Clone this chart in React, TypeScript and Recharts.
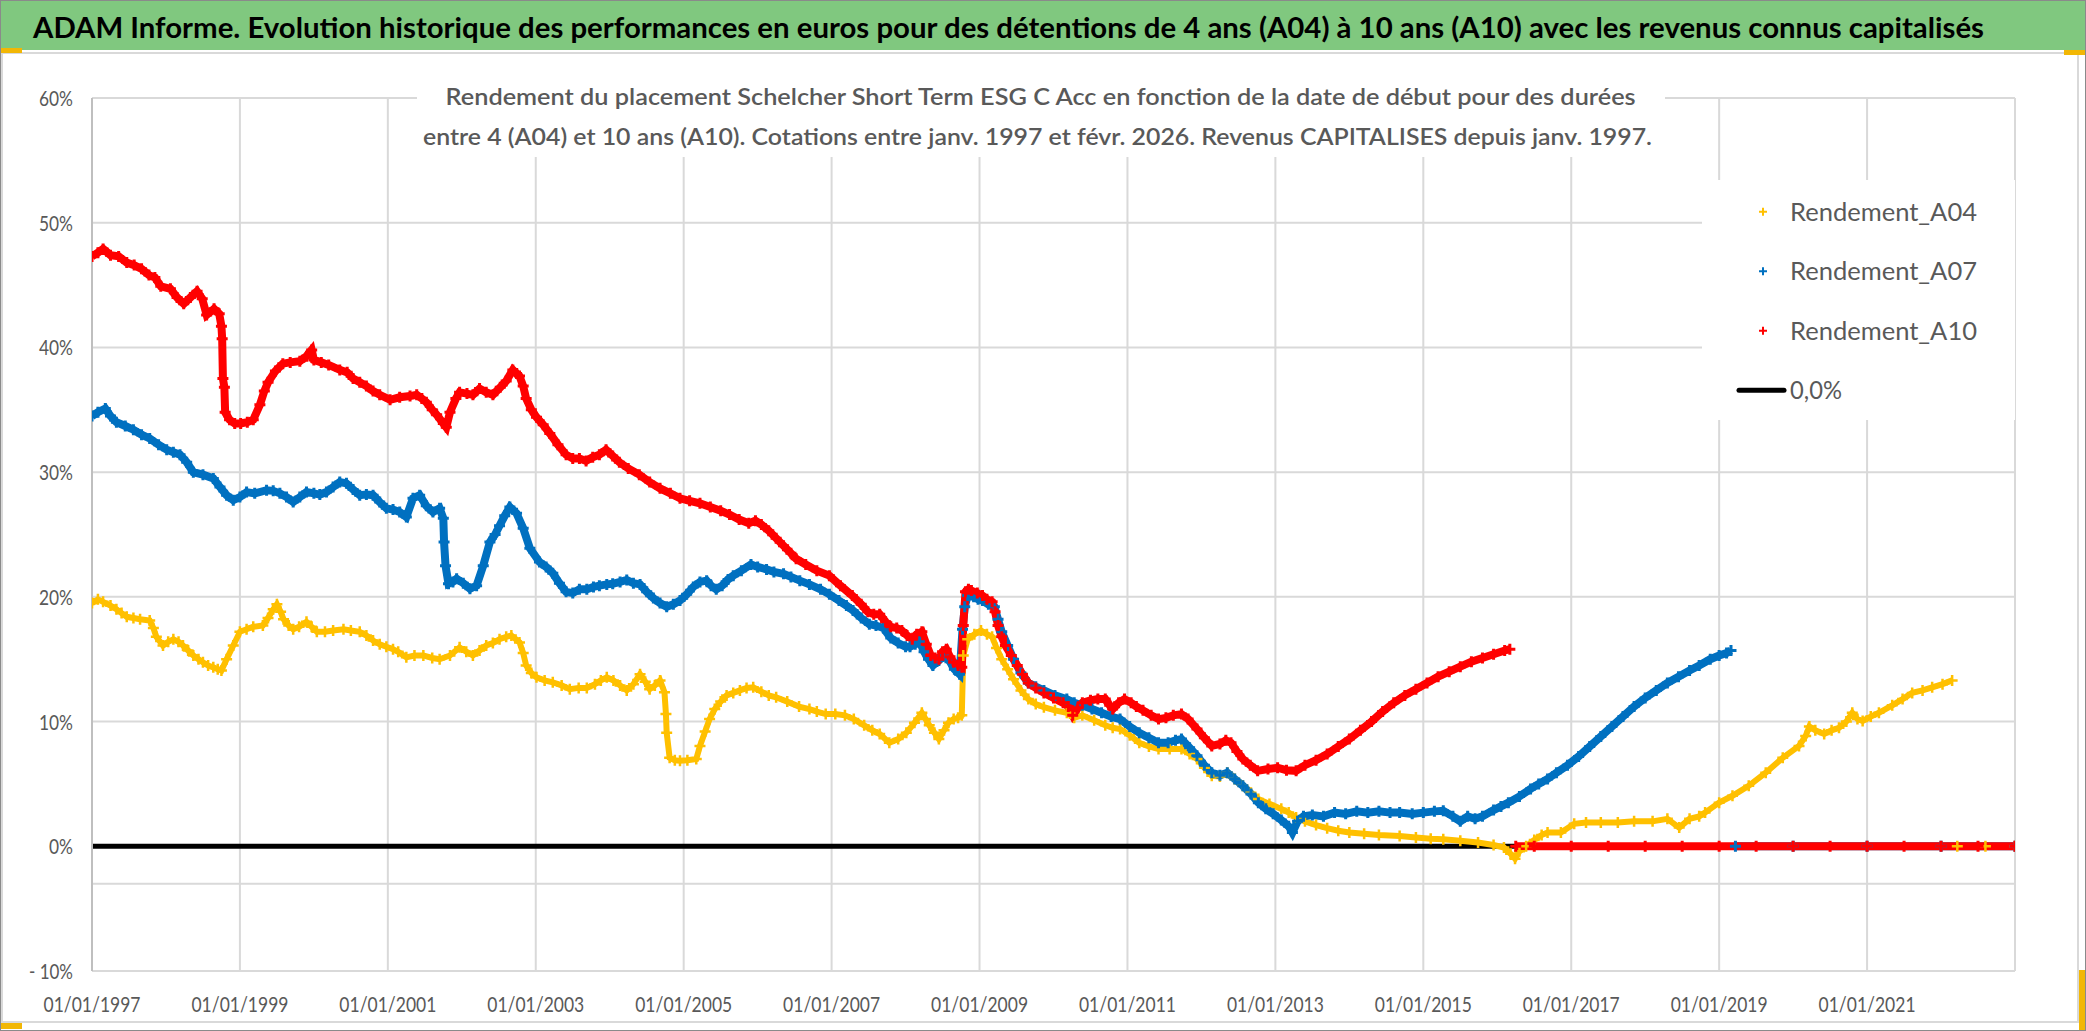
import React from 'react';
import { ComposedChart, Line, XAxis, YAxis, CartesianGrid, ReferenceLine, Legend } from 'recharts';

const TITLE = "ADAM Informe. Evolution historique des performances en euros pour des détentions de 4 ans (A04) à 10 ans (A10) avec les revenus connus capitalisés";
const SUBTITLE_1 = "Rendement du placement Schelcher Short Term ESG C Acc en fonction de la date de début pour des durées";
const SUBTITLE_2 = "entre 4 (A04) et 10 ans (A10). Cotations entre janv. 1997 et févr. 2026. Revenus CAPITALISES depuis janv. 1997.";

const xTicks = [1997, 1999, 2001, 2003, 2005, 2007, 2009, 2011, 2013, 2015, 2017, 2019, 2021];
const yTicks = [-10, 0, 10, 20, 30, 40, 50, 60];
const seriesNames = ["Rendement_A04", "Rendement_A07", "Rendement_A10", "0,0%"];
const seriesColors = ["#FFC000", "#0070C0", "#FF0000", "#000000"];

type P = [number, number | null];

const a04: P[] = [
  [1997.00, 19.5], [1997.08, 19.8], [1997.15, 19.6], [1997.25, 19.3], [1997.33, 19.0], [1997.40, 18.7],
  [1997.47, 18.4], [1997.56, 18.3], [1997.65, 18.2], [1997.78, 18.1], [1997.83, 17.5], [1997.87, 16.8],
  [1997.96, 16.1], [1998.03, 16.4], [1998.10, 16.6], [1998.17, 16.4], [1998.23, 16.1], [1998.30, 15.7],
  [1998.37, 15.3], [1998.44, 15.0], [1998.50, 14.75], [1998.57, 14.5], [1998.64, 14.35], [1998.70, 14.2],
  [1998.75, 14.1], [1998.82, 15.0], [1998.91, 16.1], [1999.00, 17.2], [1999.09, 17.4], [1999.18, 17.6],
  [1999.31, 17.7], [1999.38, 18.3], [1999.45, 19.0], [1999.50, 19.4], [1999.55, 18.8], [1999.59, 18.2],
  [1999.66, 17.7], [1999.72, 17.4], [1999.80, 17.6], [1999.90, 18.0], [1999.97, 17.6], [2000.04, 17.2],
  [2000.15, 17.2], [2000.26, 17.3], [2000.40, 17.4], [2000.50, 17.3], [2000.62, 17.2], [2000.71, 16.9],
  [2000.80, 16.5], [2000.89, 16.2], [2000.98, 16.0], [2001.07, 15.8], [2001.14, 15.6], [2001.25, 15.15],
  [2001.36, 15.3], [2001.48, 15.3], [2001.60, 15.1], [2001.70, 15.0], [2001.84, 15.3], [2001.97, 15.95],
  [2002.06, 15.6], [2002.15, 15.3], [2002.24, 15.7], [2002.33, 16.1], [2002.42, 16.3], [2002.51, 16.6],
  [2002.60, 16.8], [2002.67, 16.9], [2002.78, 16.35], [2002.83, 15.5], [2002.87, 14.5], [2002.94, 13.9],
  [2003.01, 13.55], [2003.12, 13.3], [2003.23, 13.15], [2003.35, 12.9], [2003.46, 12.6], [2003.58, 12.7],
  [2003.69, 12.7], [2003.80, 13.0], [2003.88, 13.3], [2003.96, 13.55], [2004.05, 13.3], [2004.14, 12.9],
  [2004.23, 12.5], [2004.32, 13.0], [2004.41, 13.8], [2004.48, 13.2], [2004.54, 12.6], [2004.61, 12.9],
  [2004.68, 13.3], [2004.74, 12.35], [2004.76, 10.6], [2004.77, 9.1], [2004.81, 7.1], [2004.88, 6.9],
  [2004.95, 6.85], [2005.05, 6.9], [2005.17, 7.0], [2005.22, 8.05], [2005.29, 9.2], [2005.35, 10.2],
  [2005.42, 11.0], [2005.50, 11.6], [2005.58, 12.1], [2005.67, 12.3], [2005.76, 12.5], [2005.85, 12.7],
  [2005.94, 12.75], [2006.05, 12.4], [2006.15, 12.1], [2006.25, 11.95], [2006.40, 11.6], [2006.56, 11.2],
  [2006.70, 11.0], [2006.80, 10.8], [2006.92, 10.6], [2007.05, 10.6], [2007.18, 10.5], [2007.30, 10.2],
  [2007.44, 9.7], [2007.55, 9.3], [2007.65, 9.0], [2007.78, 8.3], [2007.90, 8.6], [2008.01, 9.1],
  [2008.12, 9.9], [2008.22, 10.7], [2008.27, 10.2], [2008.32, 9.7], [2008.39, 9.1], [2008.45, 8.6],
  [2008.52, 9.3], [2008.58, 9.9], [2008.65, 10.2], [2008.71, 10.3], [2008.76, 10.5], [2008.78, 15.3],
  [2008.84, 16.6], [2008.93, 17.0], [2009.02, 17.3], [2009.10, 17.0], [2009.17, 16.8], [2009.23, 15.9],
  [2009.30, 15.0], [2009.38, 14.2], [2009.46, 13.4], [2009.56, 12.5], [2009.66, 11.8], [2009.76, 11.4],
  [2009.87, 11.15], [2010.02, 10.9], [2010.18, 10.7], [2010.28, 10.3], [2010.39, 10.5], [2010.55, 10.1],
  [2010.70, 9.7], [2010.80, 9.5], [2010.90, 9.4], [2011.03, 8.9], [2011.16, 8.3], [2011.29, 8.0],
  [2011.42, 7.8], [2011.57, 7.8], [2011.73, 7.8], [2011.84, 7.4], [2011.94, 7.0], [2012.04, 6.3],
  [2012.14, 5.65], [2012.25, 5.6], [2012.35, 5.9], [2012.45, 5.4], [2012.56, 4.85], [2012.67, 4.3],
  [2012.77, 3.8], [2012.92, 3.4], [2013.08, 3.0], [2013.18, 2.7], [2013.28, 2.3], [2013.40, 2.0],
  [2013.55, 1.7], [2013.70, 1.45], [2013.85, 1.25], [2014.00, 1.1], [2014.20, 1.0], [2014.40, 0.9],
  [2014.68, 0.83], [2014.90, 0.7], [2015.10, 0.6], [2015.27, 0.56], [2015.50, 0.45], [2015.74, 0.3],
  [2015.95, 0.1], [2016.09, -0.1], [2016.18, -0.6], [2016.24, -1.0], [2016.30, -0.4], [2016.39, 0.0],
  [2016.50, 0.5], [2016.60, 0.9], [2016.68, 1.1], [2016.86, 1.1], [2017.04, 1.8], [2017.20, 1.9],
  [2017.40, 1.9], [2017.63, 1.9], [2017.85, 2.0], [2018.10, 2.0], [2018.30, 2.2], [2018.46, 1.5],
  [2018.60, 2.2], [2018.73, 2.4], [2018.81, 2.7], [2019.00, 3.5], [2019.18, 4.05], [2019.40, 4.85],
  [2019.63, 5.9], [2019.86, 7.1], [2020.08, 8.05], [2020.17, 8.85], [2020.22, 9.6], [2020.30, 9.3],
  [2020.42, 9.0], [2020.52, 9.3], [2020.62, 9.5], [2020.72, 10.0], [2020.80, 10.7], [2020.87, 10.2],
  [2020.94, 10.05], [2021.05, 10.4], [2021.16, 10.7], [2021.34, 11.3], [2021.48, 11.8], [2021.61, 12.3],
  [2021.75, 12.5], [2021.88, 12.75], [2022.02, 13.0], [2022.15, 13.3],
  [2022.18, null], [2022.22, 0], [2022.6, 0], [2023.0, 0],
];

const a07: P[] = [
  [1997.00, 34.5], [1997.08, 34.8], [1997.18, 35.1], [1997.25, 34.5], [1997.33, 34.0], [1997.45, 33.7],
  [1997.56, 33.4], [1997.67, 33.0], [1997.78, 32.7], [1997.90, 32.2], [1998.01, 31.8], [1998.10, 31.6],
  [1998.19, 31.4], [1998.28, 30.8], [1998.37, 30.0], [1998.50, 29.8], [1998.64, 29.5], [1998.73, 28.8],
  [1998.82, 28.15], [1998.91, 27.75], [1999.00, 28.0], [1999.09, 28.4], [1999.20, 28.3], [1999.36, 28.55],
  [1999.45, 28.5], [1999.54, 28.3], [1999.63, 28.0], [1999.72, 27.6], [1999.81, 28.0], [1999.90, 28.4],
  [2000.00, 28.3], [2000.08, 28.2], [2000.17, 28.4], [2000.26, 28.8], [2000.35, 29.2], [2000.44, 29.1],
  [2000.53, 28.6], [2000.62, 28.15], [2000.71, 28.2], [2000.80, 28.15], [2000.89, 27.6], [2000.98, 27.1],
  [2001.07, 27.0], [2001.16, 26.8], [2001.25, 26.4], [2001.34, 27.9], [2001.43, 28.15], [2001.52, 27.3],
  [2001.61, 26.8], [2001.70, 27.1], [2001.75, 26.3], [2001.76, 24.4], [2001.78, 22.5], [2001.82, 21.05],
  [2001.88, 21.2], [2001.93, 21.45], [2002.02, 21.1], [2002.11, 20.65], [2002.20, 20.9], [2002.29, 22.5],
  [2002.38, 24.4], [2002.45, 25.0], [2002.51, 25.7], [2002.58, 26.5], [2002.65, 27.2], [2002.74, 26.7],
  [2002.83, 25.5], [2002.92, 23.9], [2003.05, 22.8], [2003.14, 22.4], [2003.23, 21.9], [2003.32, 21.1],
  [2003.41, 20.4], [2003.50, 20.3], [2003.59, 20.6], [2003.69, 20.6], [2003.78, 20.8], [2003.86, 20.9],
  [2003.96, 21.0], [2004.04, 21.05], [2004.14, 21.2], [2004.23, 21.35], [2004.32, 21.1], [2004.41, 21.0],
  [2004.50, 20.4], [2004.59, 19.9], [2004.68, 19.5], [2004.77, 19.2], [2004.86, 19.4], [2004.95, 19.7],
  [2005.04, 20.2], [2005.13, 20.8], [2005.22, 21.2], [2005.31, 21.3], [2005.37, 20.9], [2005.44, 20.6],
  [2005.52, 20.9], [2005.60, 21.4], [2005.67, 21.7], [2005.78, 22.1], [2005.91, 22.6], [2006.00, 22.4],
  [2006.12, 22.2], [2006.22, 22.0], [2006.35, 21.85], [2006.45, 21.6], [2006.57, 21.3], [2006.70, 21.0],
  [2006.85, 20.6], [2006.97, 20.2], [2007.10, 19.7], [2007.20, 19.3], [2007.29, 18.9], [2007.40, 18.3],
  [2007.51, 17.8], [2007.60, 17.7], [2007.70, 17.5], [2007.80, 16.7], [2007.90, 16.3], [2008.00, 16.0],
  [2008.06, 16.0], [2008.13, 16.2], [2008.19, 16.4], [2008.25, 15.6], [2008.31, 15.0], [2008.37, 14.5],
  [2008.45, 14.9], [2008.53, 15.3], [2008.60, 14.8], [2008.66, 14.2], [2008.73, 13.8], [2008.77, 17.4],
  [2008.80, 19.2], [2008.84, 20.1], [2008.92, 20.0], [2008.98, 19.8], [2009.04, 19.7], [2009.12, 19.4],
  [2009.20, 19.2], [2009.25, 18.2], [2009.30, 17.2], [2009.38, 16.1], [2009.46, 15.0], [2009.56, 13.9],
  [2009.66, 13.1], [2009.76, 12.8], [2009.87, 12.5], [2010.02, 12.1], [2010.18, 11.8], [2010.28, 11.5],
  [2010.39, 11.3], [2010.52, 11.0], [2010.65, 10.7], [2010.78, 10.4], [2010.90, 10.2], [2011.03, 9.6],
  [2011.16, 9.1], [2011.29, 8.7], [2011.42, 8.3], [2011.55, 8.3], [2011.65, 8.5], [2011.73, 8.6],
  [2011.84, 7.9], [2011.94, 7.25], [2012.04, 6.5], [2012.14, 5.9], [2012.25, 5.7], [2012.35, 5.9],
  [2012.45, 5.4], [2012.56, 4.85], [2012.67, 4.2], [2012.77, 3.5], [2012.87, 3.0], [2012.97, 2.6],
  [2013.08, 2.1], [2013.18, 1.6], [2013.23, 1.1], [2013.30, 2.0], [2013.38, 2.4], [2013.50, 2.5],
  [2013.65, 2.4], [2013.80, 2.7], [2013.95, 2.6], [2014.10, 2.8], [2014.25, 2.7], [2014.40, 2.8],
  [2014.55, 2.7], [2014.68, 2.7], [2014.85, 2.6], [2015.00, 2.7], [2015.15, 2.8], [2015.27, 2.85],
  [2015.40, 2.4], [2015.50, 2.0], [2015.60, 2.4], [2015.70, 2.2], [2015.80, 2.4], [2015.95, 2.9],
  [2016.05, 3.2], [2016.15, 3.5], [2016.30, 4.0], [2016.45, 4.6], [2016.56, 5.0], [2016.68, 5.4],
  [2016.80, 5.9], [2016.95, 6.5], [2017.10, 7.2], [2017.25, 8.0], [2017.40, 8.8], [2017.55, 9.6],
  [2017.70, 10.4], [2017.85, 11.2], [2018.00, 11.9], [2018.15, 12.5], [2018.30, 13.1], [2018.45, 13.6],
  [2018.60, 14.1], [2018.73, 14.5], [2018.88, 15.0], [2019.00, 15.3], [2019.10, 15.5], [2019.16, 15.7],
  [2019.19, null], [2019.22, 0], [2020.0, 0], [2021.0, 0], [2022.0, 0], [2023.0, 0],
];

const a10: P[] = [
  [1997.00, 47.3], [1997.08, 47.6], [1997.15, 47.9], [1997.25, 47.4], [1997.36, 47.3], [1997.47, 46.8],
  [1997.57, 46.6], [1997.67, 46.3], [1997.77, 45.8], [1997.85, 45.6], [1997.93, 44.9], [1998.06, 44.7],
  [1998.15, 44.0], [1998.24, 43.5], [1998.33, 44.0], [1998.42, 44.5], [1998.49, 43.9], [1998.55, 42.6],
  [1998.65, 43.1], [1998.72, 42.7], [1998.75, 41.7], [1998.76, 40.7], [1998.77, 37.5], [1998.79, 36.8],
  [1998.80, 34.8], [1998.86, 34.2], [1998.93, 33.9], [1999.01, 33.9], [1999.10, 34.0], [1999.18, 34.2],
  [1999.27, 35.4], [1999.33, 36.5], [1999.38, 37.2], [1999.48, 38.1], [1999.58, 38.7], [1999.68, 38.8],
  [1999.81, 38.9], [1999.90, 39.3], [1999.97, 39.8], [2000.00, 39.0], [2000.10, 38.8], [2000.20, 38.6],
  [2000.35, 38.2], [2000.45, 38.0], [2000.53, 37.5], [2000.62, 37.2], [2000.71, 36.9], [2000.80, 36.5],
  [2000.89, 36.2], [2001.03, 35.8], [2001.16, 36.0], [2001.30, 36.1], [2001.39, 36.2], [2001.46, 35.9],
  [2001.52, 35.6], [2001.60, 35.0], [2001.66, 34.6], [2001.75, 33.9], [2001.79, 33.6], [2001.84, 34.8],
  [2001.92, 35.9], [2001.97, 36.4], [2002.07, 36.3], [2002.15, 36.2], [2002.24, 36.7], [2002.33, 36.4],
  [2002.42, 36.2], [2002.52, 36.8], [2002.60, 37.3], [2002.69, 38.2], [2002.74, 37.9], [2002.78, 37.7],
  [2002.83, 36.9], [2002.87, 35.9], [2002.94, 35.0], [2003.01, 34.4], [2003.10, 33.8], [2003.19, 33.1],
  [2003.30, 32.2], [2003.41, 31.4], [2003.50, 31.1], [2003.59, 31.1], [2003.68, 30.9], [2003.77, 31.2],
  [2003.86, 31.4], [2003.95, 31.8], [2004.04, 31.3], [2004.13, 30.8], [2004.25, 30.3], [2004.40, 29.8],
  [2004.54, 29.2], [2004.68, 28.7], [2004.82, 28.3], [2004.95, 27.9], [2005.08, 27.7], [2005.22, 27.5],
  [2005.36, 27.2], [2005.50, 26.9], [2005.62, 26.6], [2005.75, 26.2], [2005.88, 25.9], [2005.97, 26.1],
  [2006.05, 25.8], [2006.15, 25.3], [2006.25, 24.7], [2006.35, 24.1], [2006.45, 23.5], [2006.52, 23.05],
  [2006.65, 22.6], [2006.80, 22.1], [2006.97, 21.7], [2007.12, 20.9], [2007.28, 20.1], [2007.40, 19.4],
  [2007.49, 18.8], [2007.57, 18.6], [2007.65, 18.6], [2007.73, 18.0], [2007.80, 17.6], [2007.88, 17.5],
  [2007.95, 17.3], [2008.02, 16.9], [2008.09, 16.6], [2008.15, 17.0], [2008.22, 17.2], [2008.28, 16.2],
  [2008.34, 15.3], [2008.40, 15.1], [2008.45, 15.0], [2008.50, 15.6], [2008.55, 15.8], [2008.60, 15.2],
  [2008.65, 14.75], [2008.71, 14.5], [2008.76, 14.35], [2008.78, 17.7], [2008.81, 20.4], [2008.85, 20.6],
  [2008.89, 20.5], [2008.97, 20.3], [2009.04, 20.1], [2009.10, 19.8], [2009.17, 19.6], [2009.21, 18.8],
  [2009.25, 17.7], [2009.30, 16.8], [2009.35, 16.1], [2009.43, 15.3], [2009.51, 14.5], [2009.58, 13.8],
  [2009.66, 13.1], [2009.76, 12.7], [2009.87, 12.3], [2010.00, 11.9], [2010.13, 11.5], [2010.20, 11.2],
  [2010.26, 10.5], [2010.33, 11.1], [2010.39, 11.5], [2010.50, 11.7], [2010.60, 11.8], [2010.70, 11.8],
  [2010.76, 11.3], [2010.80, 11.0], [2010.88, 11.5], [2010.96, 11.8], [2011.05, 11.5], [2011.12, 11.2],
  [2011.21, 10.9], [2011.32, 10.5], [2011.42, 10.2], [2011.52, 10.3], [2011.62, 10.5], [2011.73, 10.6],
  [2011.82, 10.2], [2011.94, 9.4], [2012.04, 8.7], [2012.14, 8.05], [2012.25, 8.2], [2012.33, 8.5],
  [2012.40, 8.3], [2012.48, 7.6], [2012.56, 7.0], [2012.66, 6.5], [2012.76, 6.05], [2012.90, 6.2],
  [2013.03, 6.3], [2013.15, 6.1], [2013.28, 6.05], [2013.40, 6.5], [2013.55, 6.9], [2013.70, 7.4],
  [2013.85, 8.0], [2014.00, 8.6], [2014.15, 9.3], [2014.30, 10.0], [2014.45, 10.8], [2014.60, 11.5],
  [2014.75, 12.1], [2014.90, 12.6], [2015.05, 13.1], [2015.20, 13.6], [2015.35, 14.0], [2015.50, 14.4],
  [2015.65, 14.8], [2015.80, 15.1], [2015.95, 15.4], [2016.10, 15.7], [2016.17, 15.8],
  [2016.21, null], [2016.25, 0], [2016.5, 0], [2017.0, 0], [2017.5, 0], [2018.0, 0], [2018.5, 0],
  [2019.0, 0], [2019.5, 0], [2020.0, 0], [2020.5, 0], [2021.0, 0], [2021.5, 0], [2022.0, 0],
  [2022.5, 0], [2023.0, 0],
];

const zeroLine: P[] = [[1997.0, 0], [2023.0, 0]];

const toRows = (arr: P[]) => arr.map(([x, y]) => ({ x, y }));

const PLOT_LEFT = 92;
const PLOT_BOTTOM = 971;
const FONT = "Lato, 'Open Sans', 'DejaVu Sans', sans-serif";
const GREY_TEXT = "#595959";
const GRID = "#D9D9D9";

const makeCross = (color: string, size: number, sw: number) => (props: any) => {
  const { cx, cy, index } = props;
  if (cx == null || cy == null || Number.isNaN(cx) || Number.isNaN(cy) || props.value == null) {
    return <g key={`e${index}`} />;
  }
  const h = size / 2;
  return (
    <path
      key={`c${index}`}
      d={`M${cx - h},${cy}H${cx + h}M${cx},${cy - h}V${cy + h}`}
      stroke={color}
      strokeWidth={sw}
      fill="none"
    />
  );
};

const fmtPct = (v: number) => (v < 0 ? `- ${Math.abs(v)}%` : `${v}%`);
const pctWidth = (v: number) => {
  const digits = String(Math.abs(v)).length;
  return 10 * digits + 14 + (v < 0 ? 10 : 0);
};

const YTick = (props: any) => {
  const { y, payload } = props;
  const v = payload.value;
  return (
    <text
      x={PLOT_LEFT - 19}
      y={y}
      dy={8}
      textAnchor="end"
      fontFamily={FONT}
      fontSize={22}
      fill={GREY_TEXT}
      textLength={pctWidth(v)}
      lengthAdjust="spacingAndGlyphs"
    >
      {fmtPct(v)}
    </text>
  );
};

const XTick = (props: any) => {
  const { x, payload } = props;
  return (
    <text
      x={x}
      y={PLOT_BOTTOM + 41}
      textAnchor="middle"
      fontFamily={FONT}
      fontSize={22}
      fill={GREY_TEXT}
      textLength={97}
      lengthAdjust="spacingAndGlyphs"
    >
      {`01/01/${payload.value}`}
    </text>
  );
};

const LegendBox = () => {
  const widths = [187, 187, 187, 52];
  return (
    <svg width={313} height={240} style={{ display: 'block', background: '#fff' }}>
      {seriesNames.map((name, i) => {
        const cy = 31.7 + i * 59.5;
        const color = seriesColors[i];
        return (
          <g key={name}>
            {i < 3 ? (
              <path d={`M${57},${cy}H${65}M${61},${cy - 4}V${cy + 4}`} stroke={color} strokeWidth={2} />
            ) : (
              <line x1={37} x2={82} y1={cy} y2={cy} stroke={color} strokeWidth={5} strokeLinecap="round" />
            )}
            <text
              x={88}
              y={cy + 9}
              fontFamily={FONT}
              fontSize={25.5}
              fill={GREY_TEXT}
              textLength={widths[i]}
              lengthAdjust="spacingAndGlyphs"
            >
              {name}
            </text>
          </g>
        );
      })}
    </svg>
  );
};

export default function App() {
  const HANDLE = "#F2B705";
  return (
    <div style={{ position: 'relative', width: 2086, height: 1031, background: '#fff', overflow: 'hidden' }}>
      <style>{`html,body{margin:0;padding:0;background:#fff;}`}</style>
      <div style={{ position: 'absolute', left: 0, top: 0 }}>
        <ComposedChart width={2086} height={1031} margin={{ top: 98, right: 71, bottom: 20, left: 12 }}>
          <CartesianGrid stroke={GRID} strokeWidth={2} />
          <XAxis
            dataKey="x"
            type="number"
            domain={[1997, 2023]}
            ticks={xTicks}
            allowDataOverflow
            height={40}
            axisLine={{ stroke: GRID, strokeWidth: 2 }}
            tickLine={false}
            tick={<XTick />}
            interval={0}
          />
          <YAxis
            type="number"
            domain={[-10, 60]}
            ticks={yTicks}
            allowDataOverflow
            width={80}
            axisLine={{ stroke: "#BFBFBF", strokeWidth: 2 }}
            tickLine={false}
            tick={<YTick />}
            interval={0}
          />
          <ReferenceLine y={-3} stroke={GRID} strokeWidth={2} />
          <Line
            data={toRows(zeroLine)}
            dataKey="y"
            name={seriesNames[3]}
            stroke={seriesColors[3]}
            strokeWidth={5}
            strokeLinecap="round"
            dot={false}
            activeDot={false}
            isAnimationActive={false}
            legendType="none"
          />
          <Line
            data={toRows(a04)}
            dataKey="y"
            name={seriesNames[0]}
            stroke={seriesColors[0]}
            strokeWidth={6}
            dot={makeCross(seriesColors[0], 11, 2.5)}
            activeDot={false}
            connectNulls={false}
            isAnimationActive={false}
          />
          <Line
            data={toRows(a07)}
            dataKey="y"
            name={seriesNames[1]}
            stroke={seriesColors[1]}
            strokeWidth={8}
            dot={makeCross(seriesColors[1], 11, 3)}
            activeDot={false}
            connectNulls={false}
            isAnimationActive={false}
          />
          <Line
            data={toRows(a10)}
            dataKey="y"
            name={seriesNames[2]}
            stroke={seriesColors[2]}
            strokeWidth={8}
            dot={makeCross(seriesColors[2], 11, 3)}
            activeDot={false}
            connectNulls={false}
            isAnimationActive={false}
          />
          <Legend
            layout="horizontal"
            verticalAlign="middle"
            align="center"
            content={<LegendBox />}
            wrapperStyle={{ left: 1702, top: 180, width: 313, height: 240 }}
          />
        </ComposedChart>
      </div>
      <svg
        width={2086}
        height={1031}
        style={{ position: 'absolute', left: 0, top: 0, pointerEvents: 'none' }}
      >
        <rect x={2} y={53} width={2076} height={969} fill="none" stroke={GRID} strokeWidth={2} />
        <rect x={0} y={0} width={2086} height={50} fill="#80C87F" />
        <line x1={0} x2={2086} y1={0.5} y2={0.5} stroke="#8A8A8A" strokeWidth={1} />
        <text
          x={33}
          y={38}
          fontFamily={FONT}
          fontWeight={700}
          fontSize={29}
          fill="#000"
          textLength={1951}
          lengthAdjust="spacingAndGlyphs"
        >
          {TITLE}
        </text>
        <rect x={417} y={62} width={1248} height={95} fill="#fff" />
        <text
          x={445.6}
          y={105}
          fontFamily={FONT}
          fontWeight={600}
          fontSize={23}
          fill={GREY_TEXT}
          textLength={1190}
          lengthAdjust="spacingAndGlyphs"
        >
          {SUBTITLE_1}
        </text>
        <text
          x={423}
          y={145}
          fontFamily={FONT}
          fontWeight={600}
          fontSize={23}
          fill={GREY_TEXT}
          textLength={1229}
          lengthAdjust="spacingAndGlyphs"
        >
          {SUBTITLE_2}
        </text>
        <rect x={0} y={48} width={22} height={5} fill={HANDLE} />
        <rect x={2064} y={50} width={22} height={5} fill={HANDLE} />
        <rect x={0} y={1023} width={22} height={6} fill={HANDLE} />
        <rect x={2079} y={970} width={7} height={61} fill={HANDLE} />
        <rect x={0.5} y={0.5} width={2085} height={1030} fill="none" stroke="#8A8A8A" strokeWidth={1} />
      </svg>
    </div>
  );
}
